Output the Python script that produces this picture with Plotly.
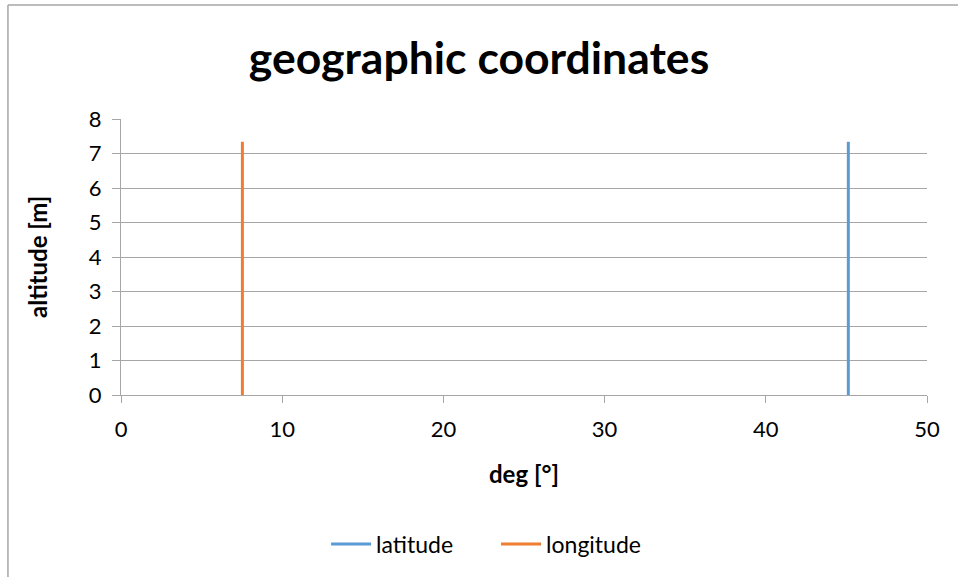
import plotly.graph_objects as go

# data
series_names = ["latitude", "longitude"]
latitude_deg = [45.12, 45.12]
longitude_deg = [7.53, 7.53]
altitude_m = [0, 7.34]
x_ticks = [0, 10, 20, 30, 40, 50]
y_ticks = [0, 1, 2, 3, 4, 5, 6, 7, 8]

colors = ["#5B9BD5", "#ED7D31"]
FONT = "Lato"

fig = go.Figure()
fig.add_trace(go.Scatter(x=latitude_deg, y=altitude_m, mode="lines", name=series_names[0],
                         line=dict(color=colors[0], width=3)))
fig.add_trace(go.Scatter(x=longitude_deg, y=altitude_m, mode="lines", name=series_names[1],
                         line=dict(color=colors[1], width=3)))

grid = "#A6A6A6"
fig.update_layout(
    width=958, height=577,
    margin=dict(l=121, r=31, t=119, b=182),
    paper_bgcolor="white", plot_bgcolor="white",
    font=dict(family=FONT, size=22, color="#000000"),
    title=dict(text="<b>geographic coordinates</b>", x=0.5, xanchor="center",
               y=1 - 58/577, yanchor="middle", font=dict(size=44.5, family=FONT, color="#000000")),
    showlegend=True,
    legend=dict(orientation="h", x=(336-10-121)/805.7, xanchor="left", y=(395-544)/276, yanchor="middle",
                font=dict(size=23), itemwidth=40, entrywidth=115, entrywidthmode="pixels"),
    xaxis=dict(range=[0, 50], tickvals=x_ticks, showgrid=False, zeroline=False,
               showline=True, linecolor=grid, linewidth=1, ticks="outside", ticklen=7,
               tickcolor=grid, ticklabelstandoff=8),
    yaxis=dict(range=[0, 8], tickvals=y_ticks, showgrid=True, gridcolor=grid, gridwidth=1,
               zeroline=False, showline=True, linecolor=grid, linewidth=1, ticks="outside",
               ticklen=8, tickcolor=grid, ticklabelstandoff=6),
    annotations=[
        dict(text="<b>deg [°]</b>", xref="paper", yref="paper", x=0.5, y=(395-473)/276,
             xanchor="center", yanchor="middle", showarrow=False, font=dict(size=24)),
        dict(text="<b>altitude [m]</b>", xref="paper", yref="paper", x=(37-121)/805.7, y=0.5,
             xanchor="center", yanchor="middle", showarrow=False, textangle=-90, font=dict(size=24)),
    ],
    shapes=[
        dict(type="line", xref="paper", yref="paper", x0=(8-121)/805.7, x1=1.2,
             y0=(395-5)/276, y1=(395-5)/276, line=dict(color="#A6A6A6", width=1.5)),
        dict(type="line", xref="paper", yref="paper", x0=(8-121)/805.7, x1=(8-121)/805.7,
             y0=(395-5)/276, y1=-1, line=dict(color="#A6A6A6", width=1.5)),
    ],
)
fig.write_html("out.html")
